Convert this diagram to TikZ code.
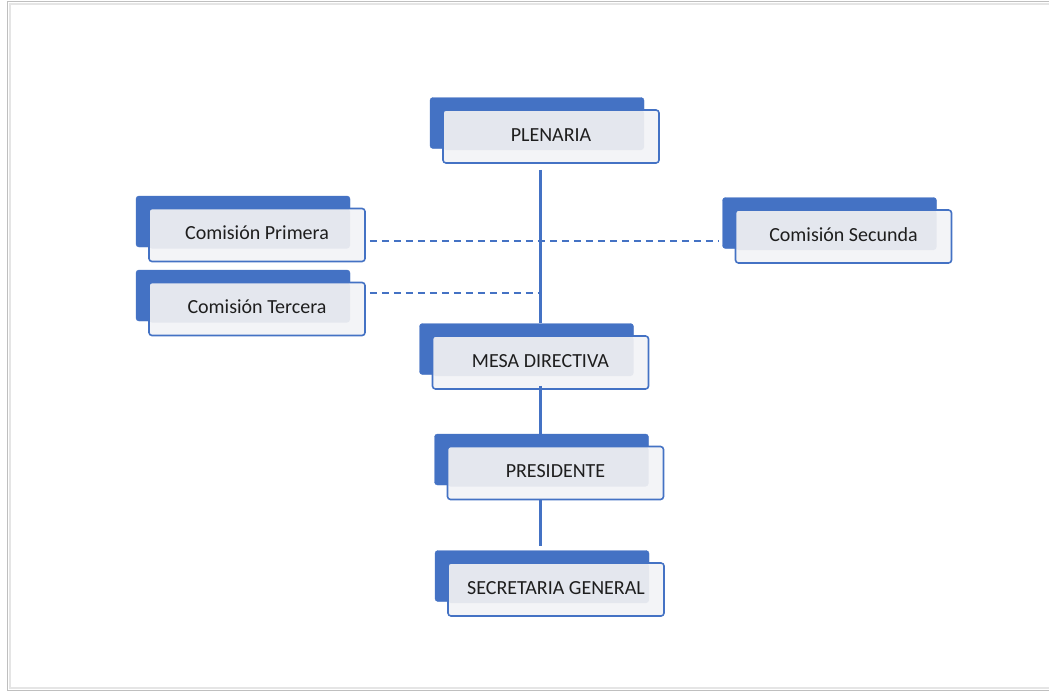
\documentclass[tikz,border=0pt]{standalone}
\usepackage{fontspec}
\setmainfont{Carlito}
\usepackage{xcolor}
\usepackage{tikz}

\definecolor{ofblue}{HTML}{4472C4}
\definecolor{boxfill}{HTML}{F3F4F7}
\definecolor{innergray}{HTML}{E4E7EE}
\definecolor{txtgray}{HTML}{1E1E1E}

\tikzset{
    backbox/.style={fill=ofblue, draw=ofblue, rounded corners=3pt, minimum width=214pt, minimum height=51pt, inner sep=0pt},
    frontbox/.style={fill=boxfill, draw=ofblue, line width=1.6pt, rounded corners=3pt, minimum width=216pt, minimum height=53pt, inner sep=0pt,
        text=txtgray, font=\fontsize{20}{24}\selectfont, text height=13pt, text depth=4pt,
        path picture={\fill[innergray] (path picture bounding box.north west) rectangle ([xshift=-15pt,yshift=13pt]path picture bounding box.south east);}},
    solidline/.style={draw=ofblue, line width=2.8pt},
    dashline/.style={draw=ofblue, line width=1.4pt, dash pattern=on 7pt off 5pt}
}

\begin{document}
\begin{tikzpicture}[x=1pt, y=-1pt]
        \useasboundingbox (0,0) rectangle (1049,693);
        \fill[white] (0,0) rectangle (1049,693);
        \draw[black!10, line width=1.5pt] (1049,4) -- (10,4) -- (10,688) -- (1049,688);
        \draw[black!25, line width=1.5pt] (1049,1.5) -- (7.5,1.5) -- (7.5,690.5) -- (1049,690.5);

        \foreach \n/\x/\y/\t in {plen/551/136.5/PLENARIA, prim/257/235/{Comisión Primera}, terc/257/309/{Comisión Tercera},
                secu/843.5/236.5/{Comisión Secunda}, mesa/540.5/362.5/MESA DIRECTIVA, pres/555.5/473/PRESIDENTE,
                secr/556/589.5/SECRETARIA GENERAL} {
            \node[backbox] (\n-b) at (\x-14,\y-13.5) {};
            \node[frontbox] (\n) at (\x,\y) {\t};
        }

        \coordinate (trunk) at (540.5,0);
        \draw[solidline] ([yshift=-6pt]plen.south -| trunk) -- (mesa-b.north -| trunk);
        \draw[solidline] ([yshift=4pt]mesa.south -| trunk) -- (pres-b.north -| trunk);
        \draw[solidline] ([yshift=1pt]pres.south -| trunk) -- ([yshift=4pt]secr-b.north -| trunk);

        \draw[dashline] ([shift={(4,6)}]prim.east) coordinate (d1) -- ([xshift=-3pt]secu-b.west |- d1);
        \draw[dashline] ([shift={(4,-16)}]terc.east) coordinate (d2) -- (d2 -| trunk);
    \end{tikzpicture}
\end{document}
